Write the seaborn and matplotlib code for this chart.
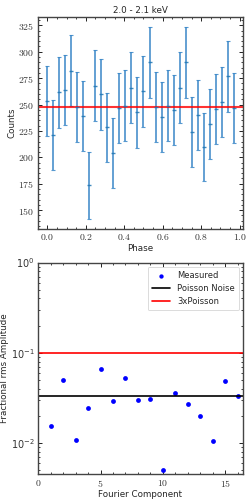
import numpy as np
import pandas as pd
import matplotlib
matplotlib.use('Agg')
import matplotlib.pyplot as plt
from matplotlib.ticker import AutoMinorLocator, MultipleLocator, FuncFormatter
import seaborn as sns

# --- data ---
phase = np.arange(32) / 32.0
counts = [253.6, 221.4, 261.5, 263.7, 282.0, 247.6, 238.8, 173.4,
          267.8, 259.6, 228.3, 204.1, 246.7, 248.9, 265.9, 242.6,
          262.8, 289.9, 247.6, 237.8, 248.9, 244.8, 265.9, 289.9,
          223.6, 239.7, 209.7, 231.5, 245.7, 252.7, 276.7, 246.7]
count_err = [33.2, 33.2, 33.7, 33.5, 33.8, 33.5, 33.2, 32.0,
             33.7, 33.7, 33.0, 32.9, 33.4, 33.6, 33.8, 33.3,
             33.6, 33.8, 33.5, 33.2, 33.6, 33.5, 33.8, 33.8,
             33.2, 33.2, 32.5, 33.3, 33.5, 33.2, 33.8, 33.3]
mean_counts = 247.5

fourier_k = list(range(1, 17))
rms_amp = [0.0154, 0.0499, 0.0109, 0.0246, 0.0661, 0.0294, 0.0528, 0.0302,
           0.0307, 0.00502, 0.0358, 0.0270, 0.0198, 0.0104, 0.0482, 0.0329]
poisson_level = 0.0334
poisson3_level = 0.1

energy_title = '2.0 - 2.1 keV'

sns.set_style('ticks')
plt.rcParams['font.family'] = ['DejaVu Sans']
plt.rcParams['mathtext.fontset'] = 'cm'
plt.rcParams['font.size'] = 6.5

fig = plt.figure(figsize=(2.52, 5.04), dpi=100)
ax1 = fig.add_axes([0.151, 0.546, 0.813, 0.420])
ax2 = fig.add_axes([0.151, 0.059, 0.813, 0.420])

spine_col = '#444444'


def style_axis(ax):
    for s in ax.spines.values():
        s.set_color(spine_col)
        s.set_linewidth(1.0)
    ax.tick_params(which='both', direction='in', top=True, right=True,
                   colors='#222222', labelsize=7, labelcolor='#333333', pad=2.5)
    ax.tick_params(which='major', length=3, width=0.7)
    ax.tick_params(which='minor', length=1.6, width=0.6)


# --- top panel: pulse profile ---
ax1.errorbar(phase, counts, yerr=count_err, fmt='_', color='#1f77b4',
             ecolor='#3a87c8', elinewidth=1.3, capsize=1.2, capthick=0.8,
             markersize=2.5, alpha=0.85)
ax1.axhline(mean_counts, color='red', lw=1.5, alpha=0.8)
ax1.set_title(energy_title, fontsize=6.3, pad=3)
ax1.set_xlabel('Phase', fontsize=6.3, labelpad=1)
ax1.set_ylabel('Counts', fontsize=6.3, labelpad=1.5)
ax1.xaxis.set_major_locator(MultipleLocator(0.2))
ax1.xaxis.set_minor_locator(AutoMinorLocator(4))
ax1.yaxis.set_major_locator(MultipleLocator(25))
ax1.yaxis.set_minor_locator(AutoMinorLocator(5))
ax1.xaxis.set_major_formatter(FuncFormatter(lambda v, p: r'$%.1f$' % v))
ax1.yaxis.set_major_formatter(FuncFormatter(lambda v, p: r'$%d$' % round(v)))
style_axis(ax1)

# --- bottom panel: Fourier amplitudes ---
df = pd.DataFrame({'k': fourier_k, 'amp': rms_amp})
sns.scatterplot(data=df, x='k', y='amp', ax=ax2, color='blue', s=12,
                edgecolor='blue', linewidth=0, label='Measured')
ax2.axhline(poisson_level, color='black', lw=1.2, label='Poisson Noise')
ax2.axhline(poisson3_level, color='red', lw=1.2, label='3xPoisson')
ax2.set_yscale('log')
ax2.set_ylim(0.0045, 1.0)
ax2.set_xlim(0, 16.4)
ax2.xaxis.set_major_locator(MultipleLocator(5))
ax2.xaxis.set_minor_locator(MultipleLocator(1))
ax2.xaxis.set_major_formatter(FuncFormatter(lambda v, p: r'$%d$' % round(v)))
ax2.set_xlabel('Fourier Component', fontsize=6.3, labelpad=1)
ax2.set_ylabel('Fractional rms Amplitude', fontsize=6.3, labelpad=1)
style_axis(ax2)
leg = ax2.legend(loc='upper right', fontsize=6, frameon=True, fancybox=True,
                 handlelength=2.2, borderpad=0.5, labelspacing=0.5,
                 markerscale=0.9)
leg.get_frame().set_edgecolor('#cccccc')
leg.get_frame().set_linewidth(0.6)

fig.savefig('out.png', dpi=100)
